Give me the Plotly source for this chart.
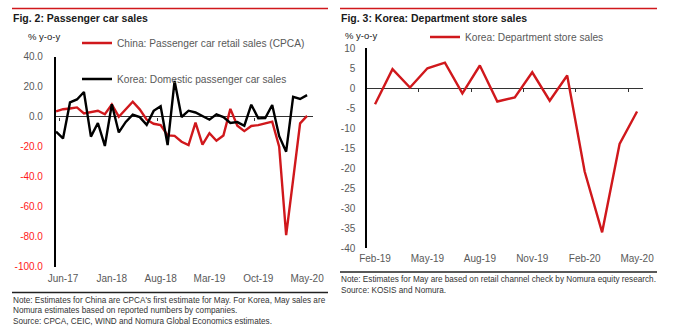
import pandas as pd
import plotly.graph_objects as go

# ---------------- data ----------------
left_months = [d.strftime("%b-%y") for d in pd.date_range("2017-05-01", "2020-05-01", freq="MS")]
china_cpca = [3.5, 5.0, 5.5, 6.2, 2.2, 2.9, 4.0, 1.6, 8.2, 0.0, 4.9, 10.0, 4.9, -2.0, -4.7,
              -5.6, -12.5, -12.8, -16.7, -18.9, -4.0, -18.6, -11.0, -16.0, -12.5, 5.2, -6.0,
              -9.6, -6.2, -5.6, -4.4, -3.3, -20.0, -79.0, -42.0, -4.4, 0.5]
korea_cars = [-10.0, -14.5, 9.5, 11.5, 16.5, -13.3, -4.2, -19.5, 8.3, -10.5, -3.5, 1.3, -0.3,
              -5.4, 3.9, 6.9, -18.9, 23.8, -0.2, 4.0, 2.8, 0.2, -2.0, 1.6, -0.3, -4.2, -3.6,
              -6.0, 8.0, -1.1, -0.9, 7.8, -13.0, -23.3, 13.3, 11.8, 14.4]
left_ticks = ["Jun-17", "Jan-18", "Aug-18", "Mar-19", "Oct-19", "May-20"]
left_yticks = [40, 20, 0, -20, -40, -60, -80, -100]

right_months = [d.strftime("%b-%y") for d in pd.date_range("2019-02-01", "2020-05-01", freq="MS")]
korea_dept = [-4.0, 4.8, 0.2, 5.0, 6.4, -1.25, 5.7, -3.3, -2.3, 4.0, -3.1, 3.2, -20.8, -36.0, -13.9, -5.8]
right_ticks = ["Feb-19", "May-19", "Aug-19", "Nov-19", "Feb-20", "May-20"]
right_yticks = [10, 5, 0, -5, -10, -15, -20, -25, -30, -35, -40]

# ---------------- style ----------------
RED = "#d0181c"
GRAY = "#595959"
TICKRED = "#ff1a1a"
FONT = "Liberation Sans, Arial, sans-serif"
W, H = 679, 329

def fx(px):
    return px / W

def fy(py):
    return 1 - py / H

L_XDOM = [fx(55.7), fx(313)]
L_YDOM = [fy(266.7), fy(56.7)]
L_XRANGE = [-0.05, 36.85]
L_YRANGE = [-100, 40]
R_XDOM = [fx(367), fx(643)]
R_YDOM = [fy(248.3), fy(48.3)]
R_XRANGE = [-0.46, 15.34]
R_YRANGE = [-40, 10]

def zero_pos(dom, rng):
    return dom[0] + (0 - rng[0]) / (rng[1] - rng[0]) * (dom[1] - dom[0])

fig = go.Figure()
fig.add_trace(go.Scatter(x=left_months, y=china_cpca, mode="lines", name="China: Passenger car retail sales (CPCA)",
                         line=dict(color=RED, width=2.4), xaxis="x", yaxis="y", legend="legend"))
fig.add_trace(go.Scatter(x=left_months, y=korea_cars, mode="lines", name="Korea: Domestic passenger car sales",
                         line=dict(color="black", width=2.4), xaxis="x", yaxis="y", legend="legend2"))
fig.add_trace(go.Scatter(x=right_months, y=korea_dept, mode="lines", name="Korea: Department store sales",
                         line=dict(color=RED, width=2.4), xaxis="x2", yaxis="y2", legend="legend3"))

left_ytext = [f'<span style="color:{TICKRED if v < 0 else GRAY}">{v:.1f}</span>' for v in left_yticks]

axis_common = dict(showgrid=False, zeroline=False, automargin=False,
                   tickfont=dict(family=FONT, size=10, color=GRAY))

fig.update_layout(
    width=W, height=H,
    margin=dict(l=0, r=0, t=0, b=0, autoexpand=False),
    paper_bgcolor="white", plot_bgcolor="white",
    font=dict(family=FONT, color=GRAY),
    xaxis=dict(axis_common, type="category", domain=L_XDOM, anchor="y",
               range=L_XRANGE, tickmode="array", tickvals=left_ticks, ticktext=left_ticks,
               showline=False, ticks="", ticklabelstandoff=4),
    yaxis=dict(axis_common, domain=L_YDOM, anchor="x", range=L_YRANGE,
               tickmode="array", tickvals=left_yticks, ticktext=left_ytext,
               showline=True, linecolor="black", linewidth=1.5, ticks="", ticklabelstandoff=9,
               zeroline=True, zerolinecolor="#333333", zerolinewidth=1),
    # small tick marks along the zero line (left chart)
    xaxis3=dict(overlaying="x", anchor="free", position=zero_pos(L_YDOM, L_YRANGE), domain=L_XDOM,
                range=L_XRANGE, tickmode="linear", tick0=14.5, dtick=14, ticks="outside",
                ticklen=3, tickwidth=1, tickcolor="#333333", showticklabels=False,
                showline=False, showgrid=False, zeroline=False, automargin=False),
    xaxis2=dict(axis_common, type="category", domain=R_XDOM, anchor="y2",
                range=R_XRANGE, tickmode="array", tickvals=right_ticks, ticktext=right_ticks,
                showline=False, ticks="", ticklabelstandoff=3),
    yaxis2=dict(axis_common, domain=R_YDOM, anchor="x2", range=R_YRANGE,
                tickmode="array", tickvals=right_yticks, ticktext=[str(v) for v in right_yticks],
                showline=True, linecolor="black", linewidth=1.5, ticks="", ticklabelstandoff=8,
                zeroline=True, zerolinecolor="#333333", zerolinewidth=1),
    # small tick marks along the zero line (right chart)
    xaxis4=dict(overlaying="x2", anchor="free", position=zero_pos(R_YDOM, R_YRANGE), domain=R_XDOM,
                range=R_XRANGE, tickmode="linear", tick0=2.5, dtick=3, ticks="outside",
                ticklen=3, tickwidth=1, tickcolor="#333333", showticklabels=False,
                showline=False, showgrid=False, zeroline=False, automargin=False),
    legend=dict(x=fx(77), y=fy(43), xanchor="left", yanchor="middle", bgcolor="rgba(0,0,0,0)",
                font=dict(family=FONT, size=10.2, color=GRAY), borderwidth=0),
    legend2=dict(x=fx(77), y=fy(79), xanchor="left", yanchor="middle", bgcolor="rgba(0,0,0,0)",
                 font=dict(family=FONT, size=10.2, color=GRAY), borderwidth=0),
    legend3=dict(x=fx(425), y=fy(37), xanchor="left", yanchor="middle", bgcolor="rgba(0,0,0,0)",
                 font=dict(family=FONT, size=10.2, color=GRAY), borderwidth=0),
    showlegend=True,
)

# invisible helper traces so the tick-mark axes are drawn
fig.add_trace(go.Scatter(x=[None], y=[None], xaxis="x3", yaxis="y", showlegend=False, hoverinfo="skip"))
fig.add_trace(go.Scatter(x=[None], y=[None], xaxis="x4", yaxis="y2", showlegend=False, hoverinfo="skip"))

shapes = [
    dict(type="line", xref="paper", yref="paper", x0=fx(12), x1=fx(328), y0=fy(8.5), y1=fy(8.5),
         line=dict(color=RED, width=1.5)),
    dict(type="line", xref="paper", yref="paper", x0=fx(340), x1=fx(657), y0=fy(8.5), y1=fy(8.5),
         line=dict(color=RED, width=1.5)),
    dict(type="line", xref="paper", yref="paper", x0=fx(12), x1=fx(328), y0=fy(292.5), y1=fy(292.5),
         line=dict(color="#222222", width=1.5)),
    dict(type="line", xref="paper", yref="paper", x0=fx(340), x1=fx(657), y0=fy(272), y1=fy(272),
         line=dict(color="#222222", width=1.5)),
]
fig.update_layout(shapes=shapes)

def ann(text, x, y, size, color, bold=False):
    return dict(text=f"<b>{text}</b>" if bold else text, xref="paper", yref="paper",
                x=fx(x), y=fy(y), xanchor="left", yanchor="middle", showarrow=False,
                font=dict(family=FONT, size=size, color=color), borderpad=0)

annotations = [
    ann("Fig. 2: Passenger car sales", 12, 18, 10.5, "#1a1a1a", bold=True),
    ann("Fig. 3: Korea: Department store sales", 340, 18, 10.5, "#1a1a1a", bold=True),
    ann("% y-o-y", 27, 36, 9.5, "#1a1a1a"),
    ann("% y-o-y", 344, 35, 9.5, "#1a1a1a"),
    ann("Note: Estimates for China are CPCA's first estimate for May. For Korea, May sales are", 12, 300, 8.2, "#333333"),
    ann("Nomura estimates based on reported numbers by companies.", 12, 310.5, 8.2, "#333333"),
    ann("Source: CPCA, CEIC, WIND and Nomura Global Economics estimates.", 12, 321, 8.2, "#333333"),
    ann("Note: Estimates for May are based on retail channel check by Nomura equity research.", 340, 279.5, 8.2, "#333333"),
    ann("Source: KOSIS and Nomura.", 340, 290.5, 8.2, "#333333"),
]
fig.update_layout(annotations=annotations)

fig.write_html("out.html")
